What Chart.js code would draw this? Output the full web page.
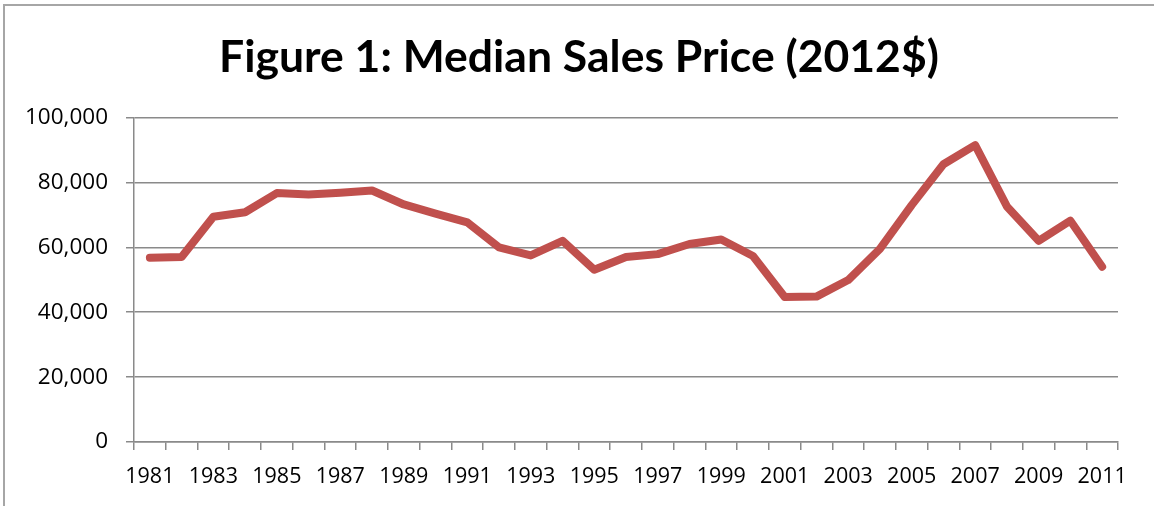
<!DOCTYPE html>
<html>
<head>
<meta charset="utf-8">
<script src="https://cdn.jsdelivr.net/npm/chart.js@4.4.0/dist/chart.umd.min.js"></script>
<style>
  html, body { margin: 0; padding: 0; background: #fff; }
  #wrap { position: relative; width: 1154px; height: 506px; overflow: hidden; }
  #frame { position: absolute; left: 3px; top: 4px; width: 1160px; height: 520px;
           border-left: 2px solid #a6a6a6; border-top: 2px solid #a6a6a6; pointer-events: none; }
  canvas { position: absolute; left: 0; top: 0; }
</style>
</head>
<body>
<div id="wrap">
  <canvas id="c" width="1154" height="506"></canvas>
  <div id="frame"></div>
</div>
<script>
const titleText = "Figure 1: Median Sales Price (2012$)";
const years = ["1981","1982","1983","1984","1985","1986","1987","1988","1989","1990",
               "1991","1992","1993","1994","1995","1996","1997","1998","1999","2000",
               "2001","2002","2003","2004","2005","2006","2007","2008","2009","2010","2011"];
const medianPrice = [56800, 57000, 69400, 70800, 76700, 76300, 76800, 77500, 73200, 70400,
                     67700, 60000, 57500, 62000, 53100, 57000, 57900, 61000, 62400, 57300,
                     44700, 44800, 49900, 59500, 73000, 85600, 91500, 72600, 62000, 68200, 54000];
const yTicks = [0, 20000, 40000, 60000, 80000, 100000];

const TITLE_FONT = "Lato, 'Noto Sans', sans-serif";
const TICK_FONT = "'Open Sans', 'Noto Sans', sans-serif";
const GRID = "#8a8a8a";

const shiftTitle = {
  id: 'shiftTitle',
  afterLayout(chart) {
    const t = chart.titleBlock;
    if (t) { t.left = 40; t.right = 1118; t.width = 1078; }
  }
};

new Chart(document.getElementById('c'), {
  type: 'line',
  data: {
    labels: years,
    datasets: [{
      label: 'Median Sales Price',
      data: medianPrice,
      borderColor: '#C0504D',
      backgroundColor: '#C0504D',
      borderWidth: 8,
      borderCapStyle: 'round',
      borderJoinStyle: 'round',
      tension: 0,
      pointRadius: 0,
      fill: false
    }]
  },
  plugins: [shiftTitle],
  options: {
    responsive: false,
    devicePixelRatio: 1,
    animation: false,
    layout: { padding: { left: 0, right: 36, top: 0, bottom: 0 } },
    plugins: {
      legend: { display: false },
      tooltip: { enabled: false },
      title: {
        display: true,
        text: titleText,
        color: '#000',
        font: { family: TITLE_FONT, size: 44.5, weight: 'bold', lineHeight: 1.2 },
        padding: { top: 31, bottom: 33.1 }
      }
    },
    scales: {
      x: {
        type: 'category',
        offset: true,
        grid: { display: true, drawOnChartArea: false, drawTicks: true, tickLength: 8,
                offset: true, color: GRID, lineWidth: 1.5 },
        border: { display: true, color: GRID, width: 1.5 },
        ticks: {
          autoSkip: false, maxRotation: 0, minRotation: 0, padding: 14, color: '#000',
          font: { family: TICK_FONT, size: 21.5 },
          callback: function(v, i) { return i % 2 === 0 ? years[i] : ''; }
        },
        afterFit: function(s) { s.height = 64; }
      },
      y: {
        min: 0, max: 100000,
        afterBuildTicks: function(s) { s.ticks = yTicks.map(v => ({ value: v })); },
        grid: { display: true, drawOnChartArea: true, drawTicks: true, tickLength: 8,
                color: GRID, lineWidth: 1.5 },
        border: { display: true, color: GRID, width: 1.5 },
        ticks: {
          padding: 18, color: '#000',
          font: { family: TICK_FONT, size: 22.5 },
          callback: function(v) { return v.toLocaleString('en-US'); }
        },
        afterFit: function(s) { s.width = 134; }
      }
    }
  }
});
</script>
</body>
</html>
